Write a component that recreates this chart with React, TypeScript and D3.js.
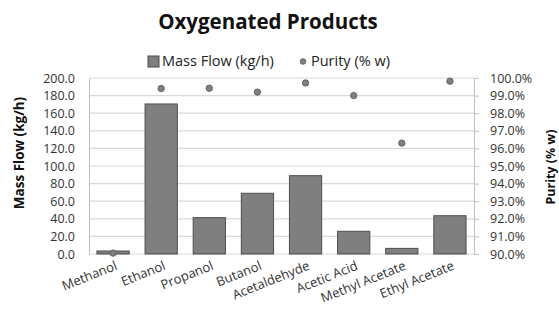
import { useRef, useEffect } from "react";
import * as d3 from "d3";

// values
const categories = ["Methanol", "Ethanol", "Propanol", "Butanol", "Acetaldehyde", "Acetic Acid", "Methyl Acetate", "Ethyl Acetate"];
const massFlow = [3.4, 170.5, 41.3, 69.0, 89.0, 25.8, 6.4, 43.5];
const purity = [90.05, 99.4, 99.42, 99.2, 99.72, 99.0, 96.3, 99.82];
const leftTicks = [0, 20, 40, 60, 80, 100, 120, 140, 160, 180, 200];
const rightTicks = [90, 91, 92, 93, 94, 95, 96, 97, 98, 99, 100];

const W = 559;
const H = 317;
const font = "'Open Sans', sans-serif";

const App = () => {
    const ref = useRef<SVGSVGElement>(null);

    useEffect(() => {
        const svg = d3.select(ref.current);
        svg.selectAll("*").remove();

        const left = 89, right = 474, top = 78, bottom = 254;
        const x = d3.scaleBand().domain(categories).range([left, right]).paddingInner(0.33).paddingOuter(0.165);
        const yL = d3.scaleLinear().domain([0, 200]).range([bottom, top]);
        const yR = d3.scaleLinear().domain([90, 100]).range([bottom, top]);

        svg.append("rect").attr("width", W).attr("height", H).attr("fill", "#fff");

        // gridlines
        svg.append("g").selectAll("line").data(leftTicks).join("line")
            .attr("x1", left).attr("x2", right)
            .attr("y1", d => yL(d)).attr("y2", d => yL(d))
            .attr("stroke", "#d9d9d9").attr("stroke-width", 1.2);

        // left axis
        const gl = svg.append("g").attr("transform", `translate(${left},0)`)
            .call(d3.axisLeft(yL).tickValues(leftTicks).tickFormat(d3.format(".1f")).tickSize(0).tickPadding(14));
        gl.select(".domain").attr("stroke", "#bfbfbf");
        gl.selectAll("text").attr("font-family", font).attr("font-size", 12.5).attr("fill", "#333");

        // right axis
        const gr = svg.append("g").attr("transform", `translate(${right},0)`)
            .call(d3.axisRight(yR).tickValues(rightTicks).tickFormat(d => d3.format(".1f")(d as number) + "%").tickSize(5).tickPadding(11));
        gr.select(".domain").attr("stroke", "#bfbfbf");
        gr.selectAll("line").attr("stroke", "#bfbfbf");
        gr.selectAll("text").attr("font-family", font).attr("font-size", 12.5).attr("fill", "#333");

        // bars
        svg.append("g").selectAll("rect").data(massFlow).join("rect")
            .attr("x", (d, i) => x(categories[i])!)
            .attr("width", x.bandwidth())
            .attr("y", d => yL(d))
            .attr("height", d => bottom - yL(d))
            .attr("fill", "#7f7f7f").attr("stroke", "#4d4d4d").attr("stroke-width", 1);

        // purity dots
        svg.append("g").selectAll("circle").data(purity).join("circle")
            .attr("cx", (d, i) => x(categories[i])! + x.bandwidth() / 2)
            .attr("cy", d => yR(d))
            .attr("r", 3.2)
            .attr("fill", "#808080").attr("stroke", "#555").attr("stroke-width", 0.8);

        // category labels
        svg.append("g").selectAll("text").data(categories).join("text")
            .attr("transform", d => `translate(${x(d)! + x.bandwidth() / 2 + 5},${bottom + 15}) rotate(-22)`)
            .attr("text-anchor", "end")
            .attr("font-family", font).attr("font-size", 13).attr("fill", "#333")
            .text(d => d);

        // title
        svg.append("text").attr("x", 268).attr("y", 29).attr("text-anchor", "middle")
            .attr("font-family", font).attr("font-weight", "bold").attr("font-size", 20.5).attr("fill", "#111")
            .text("Oxygenated Products");

        // legend
        const lg = svg.append("g");
        lg.append("rect").attr("x", 148).attr("y", 56).attr("width", 11).attr("height", 11)
            .attr("fill", "#7f7f7f").attr("stroke", "#4d4d4d");
        lg.append("text").attr("x", 162).attr("y", 66).attr("font-family", font).attr("font-size", 14.5).attr("fill", "#222")
            .text("Mass Flow (kg/h)");
        lg.append("circle").attr("cx", 303).attr("cy", 61.5).attr("r", 2.8).attr("fill", "#808080").attr("stroke", "#555").attr("stroke-width", 0.8);
        lg.append("text").attr("x", 311).attr("y", 66).attr("font-family", font).attr("font-size", 14.5).attr("fill", "#222")
            .text("Purity (% w)");

        // axis titles
        svg.append("text").attr("transform", `translate(24,153) rotate(-90)`).attr("text-anchor", "middle")
            .attr("font-family", font).attr("font-weight", "bold").attr("font-size", 13.5).attr("fill", "#111")
            .text("Mass Flow (kg/h)");
        svg.append("text").attr("transform", `translate(555,167) rotate(-90)`).attr("text-anchor", "middle")
            .attr("font-family", font).attr("font-weight", "bold").attr("font-size", 12.5).attr("fill", "#111")
            .text("Purity (% w)");
    }, []);

    return (
        <svg ref={ref} width={W} height={H}
            style={{ display: "block", position: "absolute", left: 0, top: 0 }} />
    );
};

export default App;
